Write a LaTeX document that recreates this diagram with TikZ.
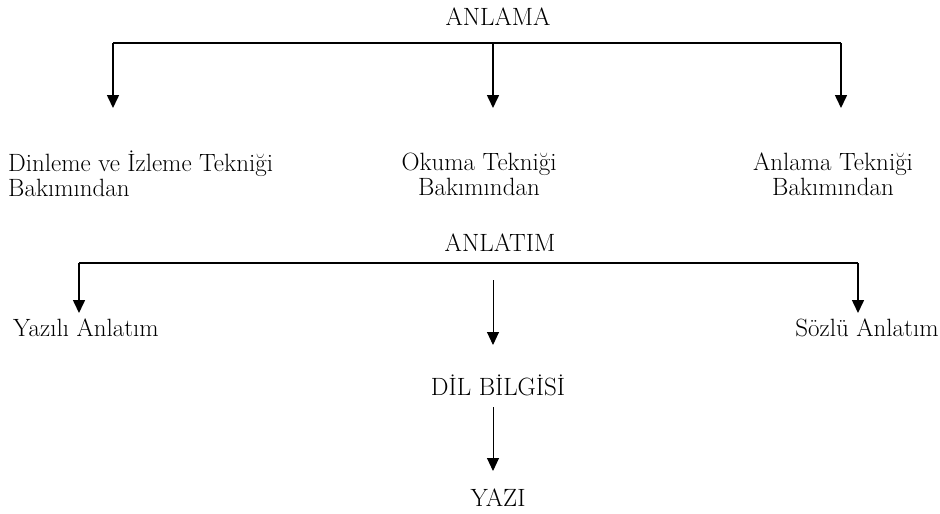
\documentclass[tikz,border=0pt]{standalone}
\usetikzlibrary{arrows.meta}
\begin{document}
\begin{tikzpicture}[x=1pt,y=-1pt,
  lbl/.style={inner sep=0pt,font=\fontsize{25}{25}\selectfont},
  bar/.style={line width=1.6pt},
  arr/.style={line width=1.6pt,-{Triangle[length=13pt,width=12pt]}},
  thinarr/.style={line width=1pt,-{Triangle[length=13pt,width=12pt]}}]
\useasboundingbox (0,0) rectangle (940,514);
% top level
\node[lbl] (anlama) at (498,17) {ANLAMA};
\coordinate (t1) at (113,43);
\coordinate (t2) at (493,43);
\coordinate (t3) at (841,43);
\coordinate (e1) at (113,108);
\coordinate (e2) at (493,108);
\coordinate (e3) at (841,108);
\draw[bar] (t1) -- (t3);
\draw[arr] (t1) -- (e1);
\draw[arr] (t2) -- (e2);
\draw[arr] (t3) -- (e3);
\node[lbl,align=left,anchor=west] (dinleme) at (8,174) {Dinleme ve İzleme Tekniği\\Bakımından};
\node[lbl,align=center] (okuma) at (479,174) {Okuma Tekniği\\Bakımından};
\node[lbl,align=center] (anlamat) at (833,174) {Anlama Tekniği\\Bakımından};
% second level
\node[lbl] (anlatim) at (500,243) {ANLATIM};
\coordinate (s1) at (79,263);
\coordinate (s3) at (858,263);
\coordinate (f1) at (79,313);
\coordinate (f3) at (858,313);
\draw[bar] (s1) -- (s3);
\draw[arr] (s1) -- (f1);
\draw[arr] (s3) -- (f3);
\node[lbl] (yazili) at (86,328) {Yazılı Anlatım};
\node[lbl] (sozlu) at (867,328) {Sözlü Anlatım};
\coordinate (m1) at (493,280);
\coordinate (m2) at (493,345);
\draw[thinarr] (m1) -- (m2);
\node[lbl] (dil) at (498,385) {DİL BİLGİSİ};
\coordinate (m3) at (493,407);
\coordinate (m4) at (493,471);
\draw[thinarr] (m3) -- (m4);
\node[lbl] (yazi) at (498,498) {YAZI};
\end{tikzpicture}
\end{document}
